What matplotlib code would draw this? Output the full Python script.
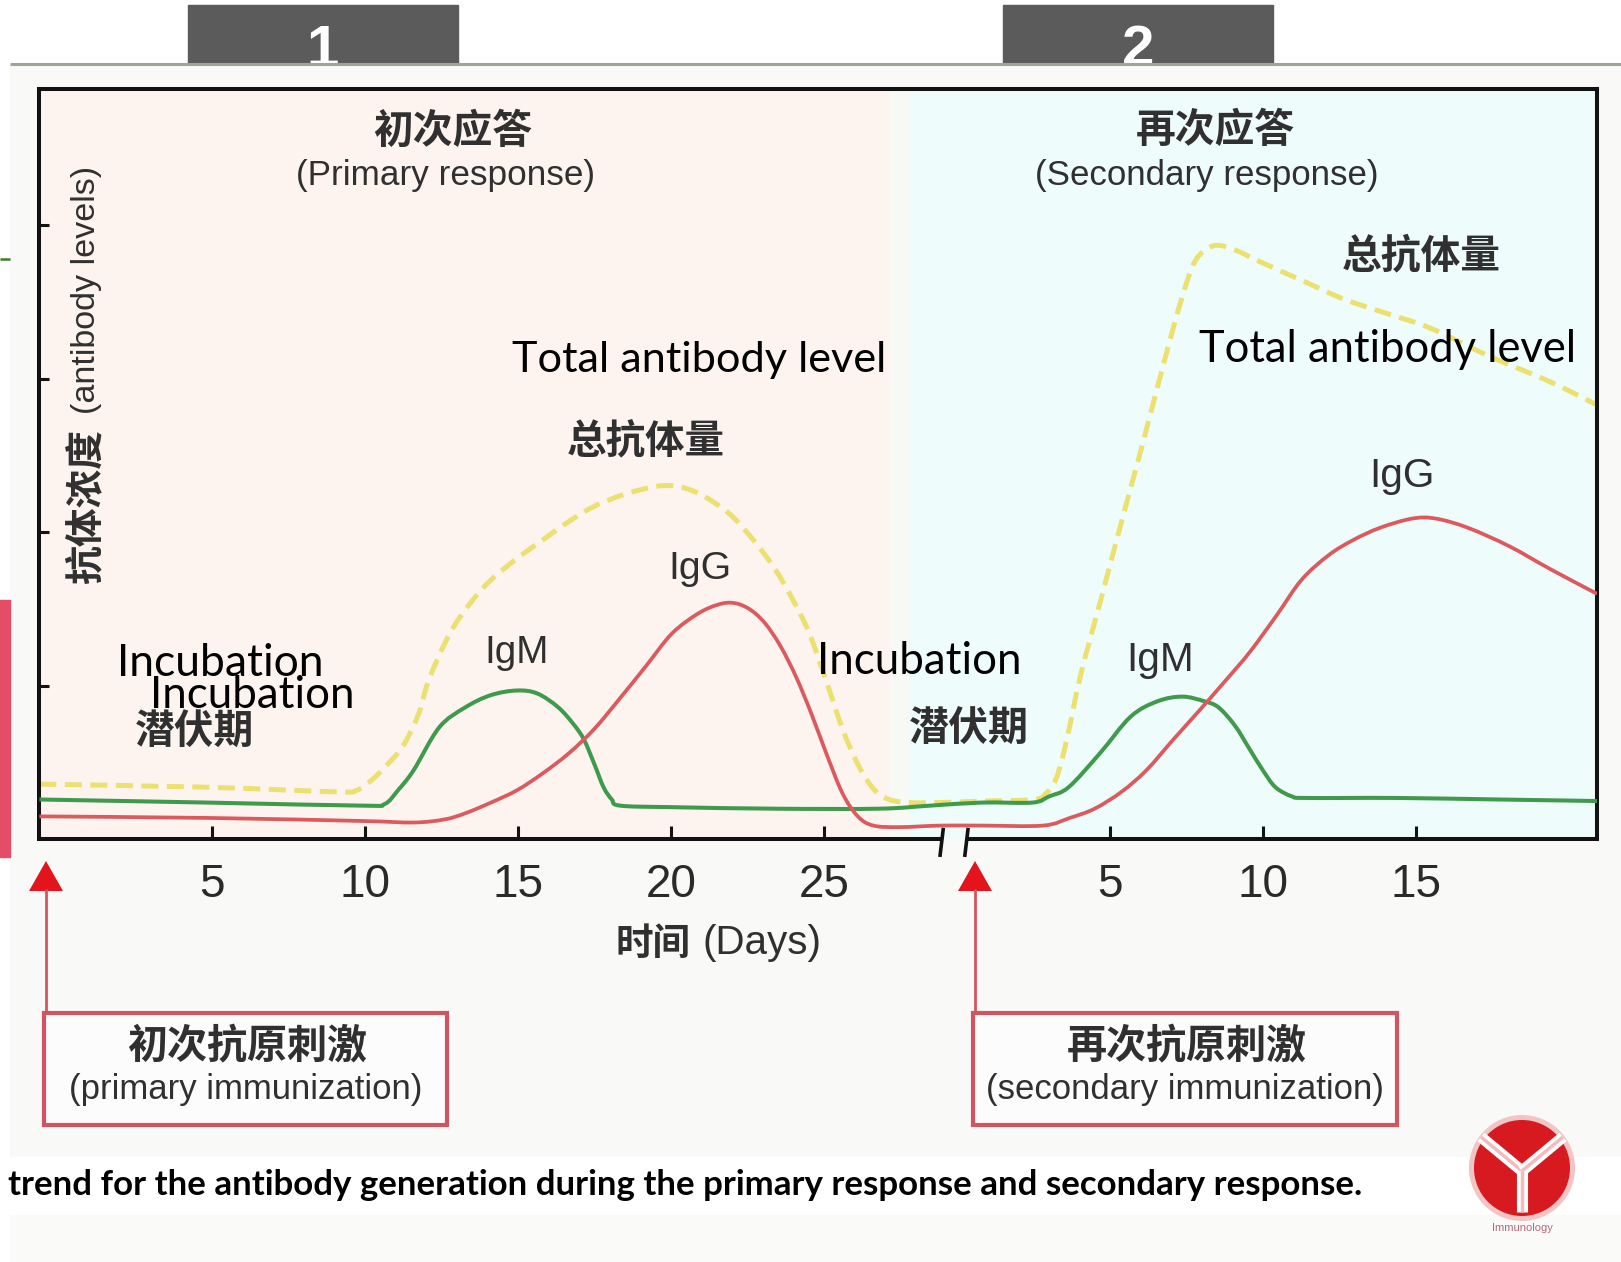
import matplotlib
matplotlib.use("Agg")
import matplotlib.pyplot as plt
from matplotlib.patches import Rectangle, Circle, Polygon, PathPatch
from matplotlib.path import Path

W, H = 1621, 1262
DPI = 100

# ---- antibody levels (relative units), primary response: days after first antigen ----
igm_prim_days = [-0.64, 4.83, 9.90, 10.64, 11.08, 11.59, 12.43, 13.28, 14.12, 14.97, 15.64,
                 16.32, 16.82, 17.16, 17.50, 17.80, 18.07, 18.34, 20.03, 23.41, 26.79, 28.48]
igm_prim = [0.26, 0.24, 0.22, 0.23, 0.32, 0.45, 0.73, 0.86, 0.94, 0.97, 0.95,
            0.86, 0.75, 0.65, 0.49, 0.34, 0.26, 0.22, 0.21, 0.20, 0.20, 0.22]

igg_prim_days = [-0.64, 4.83, 9.90, 11.59, 12.60, 13.28, 14.12, 14.97, 15.81, 16.66, 17.50,
                 18.34, 19.19, 20.03, 20.88, 21.55, 22.06, 22.57, 23.07, 23.58, 24.09, 24.59,
                 25.10, 25.61, 26.11, 26.62, 27.47, 28.82]
igg_prim = [0.15, 0.14, 0.12, 0.11, 0.13, 0.17, 0.24, 0.32, 0.43, 0.56, 0.72,
            0.92, 1.13, 1.34, 1.47, 1.53, 1.54, 1.50, 1.41, 1.26, 1.06, 0.82,
            0.55, 0.30, 0.15, 0.09, 0.08, 0.09]

total_prim_days = [-0.64, 4.83, 9.05, 9.73, 10.24, 10.74, 11.25, 11.76, 12.09, 12.77, 13.45,
                   14.12, 14.97, 15.81, 16.66, 17.50, 18.51, 19.53, 20.20, 20.84, 21.45, 22.03,
                   22.74, 23.41, 23.99, 24.53, 25.10, 25.61, 26.11, 26.62, 27.13, 27.80, 28.82]
total_prim = [0.36, 0.34, 0.31, 0.32, 0.39, 0.49, 0.61, 0.82, 1.04, 1.34, 1.54,
              1.69, 1.83, 1.95, 2.07, 2.17, 2.25, 2.30, 2.30, 2.26, 2.19, 2.10,
              1.94, 1.76, 1.56, 1.34, 1.02, 0.72, 0.49, 0.33, 0.26, 0.24, 0.24]

# ---- secondary response: days after second antigen ----
igm_sec_days = [0.83, 2.48, 3.02, 3.66, 4.68, 5.69, 6.57, 7.38, 8.09, 8.56, 9.10, 9.57,
                10.01, 10.42, 10.96, 11.43, 14.34, 17.72, 20.93]
igm_sec = [0.24, 0.24, 0.28, 0.34, 0.56, 0.80, 0.90, 0.93, 0.90, 0.86, 0.74, 0.59,
           0.45, 0.34, 0.28, 0.27, 0.27, 0.26, 0.25]

igg_sec_days = [0.83, 2.82, 3.70, 4.51, 5.39, 6.20, 7.08, 7.89, 8.77, 9.58, 10.46, 11.27,
                12.15, 12.96, 13.84, 14.89, 15.66, 16.71, 18.06, 19.41, 20.93]
igg_sec = [0.09, 0.09, 0.14, 0.20, 0.31, 0.45, 0.65, 0.83, 1.03, 1.22, 1.46, 1.69,
           1.85, 1.95, 2.03, 2.09, 2.09, 2.03, 1.91, 1.76, 1.60]

total_sec_days = [0.83, 2.52, 2.92, 3.26, 3.60, 4.04, 4.71, 5.39, 6.07, 6.74, 7.32, 7.75,
                  8.13, 8.53, 9.10, 9.95, 11.30, 12.65, 14.00, 15.49, 17.38, 19.41, 20.93]
total_sec = [0.25, 0.26, 0.30, 0.40, 0.65, 1.06, 1.56, 2.07, 2.57, 3.08, 3.50, 3.75,
             3.84, 3.87, 3.84, 3.76, 3.64, 3.52, 3.43, 3.33, 3.15, 2.98, 2.83]

prim_ticks = [5, 10, 15, 20, 25]
sec_ticks = [5, 10, 15]
y_ticks = [1, 2, 3, 4]

# position of the second antigen's day 0 on the broken time axis
SEC_OFFSET = 29.34
XLIM = (-0.642, 50.27)
YLIM = (0, 4.889)

C_IGM = '#3f9a4c'
C_IGG = '#db5a5e'
C_TOT = '#ece070'
C_TXT = '#303030'
CJK = 'Noto Sans CJK SC'
LAT = 'Liberation Sans'
OVER = 'Lato'

fig = plt.figure(figsize=(W / DPI, H / DPI), dpi=DPI)
fig.patch.set_facecolor('white')
renderer = fig.canvas.get_renderer()


def pix_axes(z):
    a = fig.add_axes([0, 0, 1, 1], zorder=z)
    a.set_xlim(0, W)
    a.set_ylim(H, 0)
    a.axis('off')
    a.patch.set_alpha(0)
    return a


def fit_text(a, x, y, s, size, ha='center', va='center', dim='width', **kw):
    t = a.text(x, y, s, ha=ha, va=va, fontsize=20, **kw)
    bb = t.get_window_extent(renderer=renderer)
    cur = bb.width if dim == 'width' else bb.height
    t.set_fontsize(20 * size / cur)
    return t


def smooth_path(xs, ys):
    """Cubic Bezier path passing through every (x, y) point (Catmull-Rom tangents)."""
    pts = list(zip(xs, ys))
    n = len(pts)
    verts = [pts[0]]
    codes = [Path.MOVETO]
    for i in range(n - 1):
        p0 = pts[max(i - 1, 0)]
        p1 = pts[i]
        p2 = pts[i + 1]
        p3 = pts[min(i + 2, n - 1)]
        c1 = (p1[0] + (p2[0] - p0[0]) / 6, p1[1] + (p2[1] - p0[1]) / 6)
        c2 = (p2[0] - (p3[0] - p1[0]) / 6, p2[1] - (p3[1] - p1[1]) / 6)
        verts += [c1, c2, p2]
        codes += [Path.CURVE4] * 3
    return Path(verts, codes)


# ---------------- background page ----------------
bg = pix_axes(-5)
for cx, lab in [(323, '1'), (1138, '2')]:
    bg.add_patch(Rectangle((cx - 135, 5), 270, 62, color='#5b5b5b', zorder=1))
    bg.text(cx, 66, lab, color='white', fontsize=42, fontweight='bold', family=LAT,
            ha='center', va='baseline', zorder=2)
bg.add_patch(Rectangle((10, 64), W - 10, 1157 - 64, color='#f9faf8', zorder=3))
bg.plot([10, W], [64, 64], color='#9ea792', lw=2.2, zorder=4, solid_capstyle='butt')
bg.plot([0, 10], [259, 259], color='#3d7d1e', lw=1.8, zorder=4, solid_capstyle='butt')
bg.add_patch(Rectangle((0, 600), 10, 257, color='#e54d66', zorder=4))
bg.add_patch(Rectangle((0, 1157), W, 58, color='white', zorder=4))
bg.add_patch(Rectangle((10, 1215), W - 10, H - 1215, color='#fafbf8', zorder=4))

# ---------------- chart ----------------
L, R, T, B = 39.3, 1597.0, 88.9, 839.4
ax = fig.add_axes([L / W, 1 - B / H, (R - L) / W, (B - T) / H], zorder=0)
ax.set_xlim(*XLIM)
ax.set_ylim(*YLIM)

ax.axvspan(XLIM[0], 27.16, color='#fdf4ef', lw=0, zorder=0)
ax.axvspan(27.16, 27.8, color='#f6f9f4', lw=0, zorder=0)
ax.axvspan(27.8, XLIM[1], color='#effcfc', lw=0, zorder=0)


def joined(pd, pv, sd, sv):
    return list(pd) + [SEC_OFFSET + d for d in sd], list(pv) + list(sv)


for (pd, pv, sd, sv), col, lw, ls, z in [
        ((total_prim_days, total_prim, total_sec_days, total_sec), C_TOT, 3.6, (0, (3.4, 1.7)), 2),
        ((igm_prim_days, igm_prim, igm_sec_days, igm_sec), C_IGM, 2.9, '-', 3),
        ((igg_prim_days, igg_prim, igg_sec_days, igg_sec), C_IGG, 2.7, '-', 4)]:
    x, y = joined(pd, pv, sd, sv)
    ax.add_patch(PathPatch(smooth_path(x, y), facecolor='none', edgecolor=col, lw=lw,
                           linestyle=ls, zorder=z, joinstyle='round', capstyle='butt'))

for side in ['top', 'left', 'right']:
    ax.spines[side].set_linewidth(2.9)
    ax.spines[side].set_color('#121212')
ax.spines['bottom'].set_visible(False)

# broken time axis
brk_l, brk_r = 28.85, 29.66
xt = ax.get_xaxis_transform()
ax.plot([XLIM[0], brk_l], [0, 0], color='#121212', lw=2.9, transform=xt, clip_on=False,
        solid_capstyle='butt', zorder=6)
ax.plot([brk_r, XLIM[1]], [0, 0], color='#121212', lw=2.9, transform=xt, clip_on=False,
        solid_capstyle='butt', zorder=6)
for bx in (brk_l, brk_r):
    ax.plot([bx - 0.05, bx + 0.05], [-0.021, 0.013], color='#121212', lw=2.6,
            transform=xt, clip_on=False, zorder=6)

ax.set_xticks(prim_ticks + [SEC_OFFSET + d for d in sec_ticks])
ax.set_xticklabels([str(d) for d in prim_ticks] + [str(d) for d in sec_ticks])
ax.set_yticks(y_ticks)
ax.set_yticklabels([])
ax.tick_params(axis='x', direction='in', length=9.5, width=2.2, color='#121212',
               pad=17, labelsize=33, labelcolor='#2a2a2a')
ax.tick_params(axis='y', direction='in', length=7, width=2.2, color='#121212')
for lab in ax.get_xticklabels():
    lab.set_family(LAT)

# ---------------- labels and annotations ----------------
fg = pix_axes(10)

fit_text(fg, 453, 131, '初次应答', 159, family=CJK, fontweight='bold', color=C_TXT)
fit_text(fg, 445, 176, '(Primary response)', 298, family=LAT, color=C_TXT)
fit_text(fg, 1215, 131, '再次应答', 159, family=CJK, fontweight='bold', color=C_TXT)
fit_text(fg, 1207, 176, '(Secondary response)', 343, family=LAT, color=C_TXT)
fit_text(fg, 646, 442, '总抗体量', 158, family=CJK, fontweight='bold', color=C_TXT)
fit_text(fg, 1421, 256, '总抗体量', 159, family=CJK, fontweight='bold', color=C_TXT)
fit_text(fg, 517, 653, 'IgM', 64, family=LAT, color=C_TXT)
fit_text(fg, 700, 569, 'IgG', 63, family=LAT, color=C_TXT)
fit_text(fg, 1160, 660, 'IgM', 67, family=LAT, color=C_TXT)
fit_text(fg, 1402, 476, 'IgG', 65, family=LAT, color=C_TXT)
fit_text(fg, 194, 731, '潜伏期', 119, family=CJK, fontweight='bold', color=C_TXT)
fit_text(fg, 969, 729, '潜伏期', 120, family=CJK, fontweight='bold', color=C_TXT)

fit_text(fg, 653, 943, '时间', 75, family=CJK, fontweight='bold', color=C_TXT)
fit_text(fg, 762, 943, '(Days)', 119, family=LAT, color=C_TXT)
fit_text(fg, 86, 507, '抗体浓度', 155, dim='height', rotation=90, family=CJK,
         fontweight='bold', color=C_TXT)
fit_text(fg, 86, 290, '(antibody levels)', 248, dim='height', rotation=90, family=LAT,
         color=C_TXT)

# antigen arrows and boxes
for ax_x, bx0, bx1, zh, en, en_w in [(46, 44, 447, '初次抗原刺激', '(primary immunization)', 354),
                                     (975, 973, 1397, '再次抗原刺激', '(secondary immunization)', 398)]:
    fg.plot([ax_x, ax_x], [889, 1013], color='#d4545e', lw=2.0, solid_capstyle='butt')
    fg.add_patch(Polygon([(ax_x - 17, 891), (ax_x + 17, 891), (ax_x, 861)],
                         closed=True, color='#e3141c', lw=0))
    fg.add_patch(Rectangle((bx0, 1013), bx1 - bx0, 112, facecolor='#fcfcfc',
                           edgecolor='#cf5560', lw=3.0))
    cx = (bx0 + bx1) / 2
    fit_text(fg, cx + 2, 1047, zh, 240, family=CJK, fontweight='bold', color=C_TXT)
    fit_text(fg, cx, 1090, en, en_w, family=LAT, color=C_TXT)

# overlay captions
fit_text(fg, 117, 664, 'Incubation', 207, ha='left', family=OVER, color='black')
fit_text(fg, 150, 696, 'Incubation', 205, ha='left', family=OVER, color='black')
fit_text(fg, 817, 662, 'Incubation', 205, ha='left', family=OVER, color='black')
fit_text(fg, 512, 360, 'Total antibody level', 375, ha='left', family=OVER, color='black')
fit_text(fg, 1199, 349, 'Total antibody level', 378, ha='left', family=OVER, color='black')
fit_text(fg, 8, 1185, 'trend for the antibody generation during the primary response '
         'and secondary response.', 1358, ha='left', family=OVER, fontweight='bold',
         color='black')

# logo
fg.add_patch(Circle((1522, 1168), 53, facecolor='#f2c4c4', edgecolor='none'))
fg.add_patch(Circle((1522, 1168), 48, facecolor='#d71a1f', edgecolor='none'))
for seg in [((1481, 1137), (1522, 1171)), ((1563, 1137), (1522, 1171)),
            ((1522, 1171), (1522, 1212))]:
    xs, ys = zip(*seg)
    fg.plot(xs, ys, color='white', lw=8, solid_capstyle='butt')
    fg.plot(xs, ys, color='#f3bcbc', lw=2.5, solid_capstyle='butt')
fg.text(1522, 1228, 'Immunology', fontsize=8, color='#b9687a', ha='center', va='center',
        family=LAT)

fig.savefig('out.png', dpi=DPI, facecolor=fig.get_facecolor())
